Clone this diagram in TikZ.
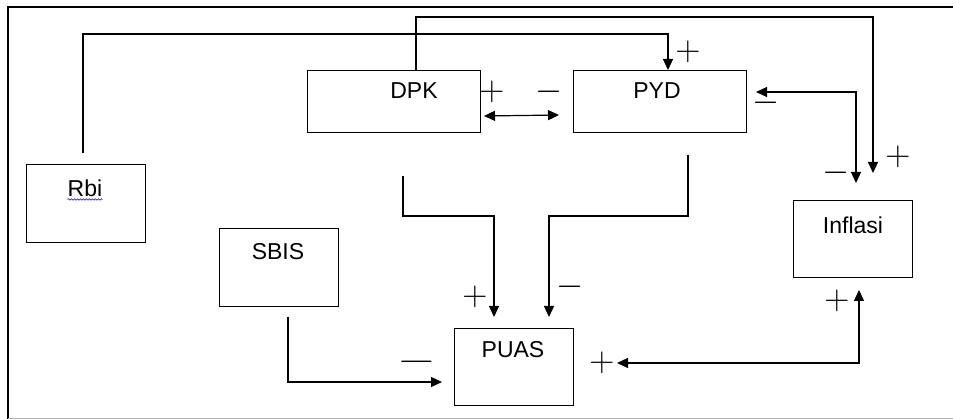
\documentclass[tikz,border=0pt]{standalone}
\usepackage{fontspec}
\setmainfont{Liberation Sans}
\usepackage{graphicx}
\usetikzlibrary{arrows.meta,decorations.pathmorphing}
\newcommand\mySgPlus{\scalebox{1.4}{$+$}}
\newcommand\mySgMinus{\scalebox{1.4}{$-$}}
\begin{document}
\begin{tikzpicture}[x=1pt,y=-1pt,
  box/.style={draw,line width=1.4pt,inner sep=0,anchor=north west},
  lbl/.style={anchor=base,font=\fontsize{23}{26}\selectfont,inner sep=0},
  con/.style={line width=1.2pt},
  arr/.style={con,-{Triangle[length=11pt,width=10pt]}},
  darr/.style={con,{Triangle[length=11pt,width=10pt]}-{Triangle[length=11pt,width=10pt]}},
  sg/.style={inner sep=0,font=\fontsize{24}{26}\selectfont}]
\useasboundingbox (0,0) rectangle (953,419);
% frame
\draw[line width=2pt] (8,419) -- (8,7) -- (953,7);
\draw[gray!60,line width=1pt] (8,418) -- (953,418);
% boxes
\node[box,minimum width=119pt,minimum height=78pt] (rbi) at (26,164) {};
\node[box,minimum width=173pt,minimum height=62pt] (dpk) at (307,70) {};
\node[box,minimum width=173pt,minimum height=62pt] (pyd) at (573,70) {};
\node[box,minimum width=119pt,minimum height=78pt] (sbis) at (219,228) {};
\node[box,minimum width=119pt,minimum height=77pt] (puas) at (454,328) {};
\node[box,minimum width=119pt,minimum height=77pt] (infl) at (793,200) {};
% texts
\node[lbl] (rbi-t) at (85,197) {Rbi};
\node[lbl] (dpk-t) at (414,99) {DPK};
\node[lbl] (pyd-t) at (657,99) {PYD};
\node[lbl] (sbis-t) at (278,260) {SBIS};
\node[lbl] (puas-t) at (513,358) {PUAS};
\node[lbl] (infl-t) at (853,234) {Inflasi};
\draw[blue,line width=0.6pt,decorate,decoration={snake,segment length=3pt,amplitude=0.8pt}]
  ([yshift=-2.5pt]rbi-t.base west) -- ([yshift=-2.5pt]rbi-t.base east);
% connector end points
\coordinate (rbiS) at (83,153);
\coordinate (r1) at (668,34);
\coordinate (d1) at (416,17);
\coordinate (d2) at (873,173);
\coordinate (p1) at (756,92);
\coordinate (p2) at (856,183);
\coordinate (dp1) at (484,116);
\coordinate (dp2) at (559,115);
\coordinate (a1) at (403,176);
\coordinate (a2) at (494,317);
\coordinate (b1) at (688,155);
\coordinate (b2) at (549,317);
\coordinate (s1) at (288,317);
\coordinate (s2) at (442,382);
\coordinate (q1) at (617,363);
\coordinate (q2) at (859,290);
% connectors
\draw[arr] (rbiS) |- (r1) -- (r1 |- pyd.north);
\draw[arr] (d1 |- dpk.north) -- (d1) -| (d2);
\draw[darr] (p1) -| (p2);
\draw[darr] (dp1) -- (dp2);
\draw[arr] (a1) -- (403,216) -| (a2);
\draw[arr] (b1) -- (688,216) -| (b2);
\draw[arr] (s1) |- (s2);
\draw[darr] (q1) -| (q2);
% signs
\node[sg] (sg1) at (492,92) {\mySgPlus};
\node[sg] (sg2) at (549,92) {\mySgMinus};
\node[sg] (sg3) at (688,52) {\mySgPlus};
\node[sg] (sg4) at (766,103) {\mySgMinus};
\node[sg] (sg5) at (836,173) {\mySgMinus};
\node[sg] (sg6) at (898,157) {\mySgPlus};
\node[sg] (sg7) at (837,301) {\mySgPlus};
\node[sg] (sg8) at (475,297) {\mySgPlus};
\node[sg] (sg9) at (570,287) {\mySgMinus};
\node[sg] (sg10) at (417,362) {\scalebox{2}[1.4]{$-$}};
\node[sg] (sg11) at (602,363) {\mySgPlus};
\end{tikzpicture}
\end{document}
